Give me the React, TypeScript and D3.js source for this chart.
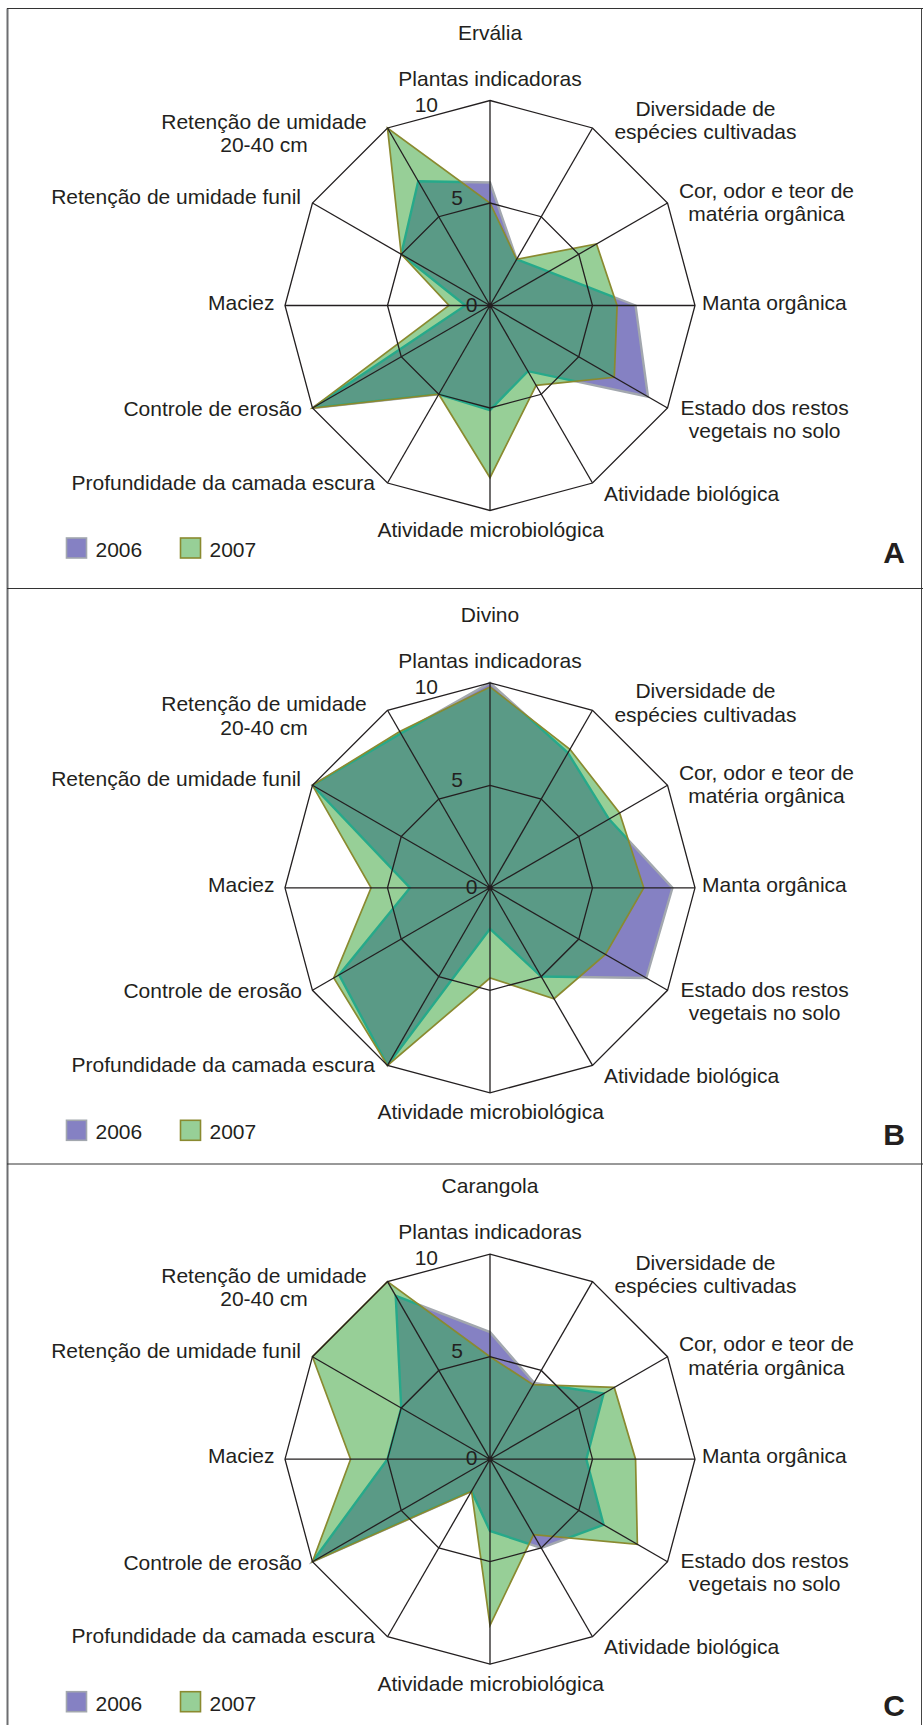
import React from "react";
import * as d3 from "d3";

// Twelve soil-quality indicators, clockwise from the top ("|" breaks a label into lines)
const categories = [
  "Plantas indicadoras",
  "Diversidade de|espécies cultivadas",
  "Cor, odor e teor de|matéria orgânica",
  "Manta orgânica",
  "Estado dos restos|vegetais no solo",
  "Atividade biológica",
  "Atividade microbiológica",
  "Profundidade da camada escura",
  "Controle de erosão",
  "Maciez",
  "Retenção de umidade funil",
  "Retenção de umidade|20-40 cm",
];

const sites = ["Ervália", "Divino", "Carangola"];
const panelLetters = ["A", "B", "C"];
const years = ["2006", "2007"];
const ticks = [0, 5, 10];

// Scores (0-10) per indicator, same order as categories
const ervalia2006 = [6, 2.6, 3.3, 7.1, 8.9, 3.7, 5.1, 5, 10, 1.2, 5, 7];
const ervalia2007 = [5, 2.6, 6, 6.2, 7, 4.5, 8.4, 5, 10, 2, 5, 10];
const divino2006 = [10, 7.6, 6.7, 8.9, 8.8, 5.0, 2.0, 10, 8.5, 3.9, 10, 8.7];
const divino2007 = [9.8, 7.8, 7.3, 7.5, 6.5, 6.25, 4.4, 10, 8.8, 5.8, 10, 8.8];
const carangola2006 = [6.2, 4.3, 6.4, 4.7, 6.4, 5.0, 3.5, 1.8, 10, 5.0, 5, 9.2];
const carangola2007 = [5, 4.2, 7, 7.1, 8.3, 4.25, 8.1, 1.8, 10, 6.8, 10, 10];

const series2006 = [ervalia2006, divino2006, carangola2006];
const series2007 = [ervalia2007, divino2007, carangola2007];

// ---- layout & style ----
const W = 923;
const H = 1725;
const CX = 490;
const centersY = [305.5, 887.8, 1459.2];
const R = 205;
const FONT = "'Liberation Sans', Arial, Helvetica, sans-serif";
const TEXT = "#231f20";

const C_PURPLE = "#8581c3";
const C_GREY = "#a2a7ae";
const C_GREEN = "#97cf97";
const C_OLIVE = "#8a8a30";
const C_OVERLAP = "#5a9a86";
const C_TEAL = "#27a98a";

const labelLayout = [
  { dx: 0, dy: -220, anchor: "middle" },
  { dx: 215.5, dy: -189.5, anchor: "middle" },
  { dx: 276.5, dy: -108, anchor: "middle" },
  { dx: 212, dy: 4, anchor: "start" },
  { dx: 274.6, dy: 109, anchor: "middle" },
  { dx: 201.6, dy: 195, anchor: "middle" },
  { dx: 0.6, dy: 231.5, anchor: "middle" },
  { dx: -115, dy: 184, anchor: "end" },
  { dx: -188, dy: 110.5, anchor: "end" },
  { dx: -215.5, dy: 4, anchor: "end" },
  { dx: -189, dy: -101.5, anchor: "end" },
  { dx: -226, dy: -176.5, anchor: "middle" },
];
const LINE_H = 23.3;

const tickLayout = [
  { dx: -12.5, dy: 6 },
  { dx: -27, dy: -101 },
  { dx: -52, dy: -194 },
];

const rScale = d3.scaleLinear().domain([0, 10]).range([0, R]);
const n = categories.length;
const angle = (i: number) => (i * 2 * Math.PI) / n;

const radar = d3
  .lineRadial<number>()
  .angle((_d, i) => angle(i))
  .radius((d) => rScale(d))
  .curve(d3.curveLinearClosed);

function Panel({ idx }: { idx: number }) {
  const cy = centersY[idx];
  const a = series2006[idx];
  const b = series2007[idx];
  const pathA = radar(a) || "";
  const pathB = radar(b) || "";
  const clipId = `clip2007-${idx}`;
  const ringPaths = [5, 10].map((v) => radar(new Array(n).fill(v)) || "");

  return (
    <g>
      <text
        x={CX}
        y={cy - 266}
        textAnchor="middle"
        fontSize={21}
        fill={TEXT}
      >
        {sites[idx]}
      </text>

      <g transform={`translate(${CX},${cy})`}>
        <defs>
          <clipPath id={clipId}>
            <path d={pathB} />
          </clipPath>
        </defs>
        {/* 2006 */}
        <path d={pathA} fill={C_PURPLE} stroke={C_GREY} strokeWidth={2.4} strokeLinejoin="miter" />
        {/* 2007 */}
        <path d={pathB} fill={C_GREEN} stroke="none" />
        {/* area common to both years */}
        <path
          d={pathA}
          fill={C_OVERLAP}
          stroke={C_TEAL}
          strokeWidth={2.4}
          clipPath={`url(#${clipId})`}
        />
        <path d={pathB} fill="none" stroke={C_OLIVE} strokeWidth={1.7} strokeLinejoin="miter" />

        {/* grid */}
        {ringPaths.map((d, i) => (
          <path key={i} d={d} fill="none" stroke={TEXT} strokeWidth={1.3} />
        ))}
        {categories.map((_c, i) => {
          const t = angle(i);
          return (
            <line
              key={i}
              x1={0}
              y1={0}
              x2={R * Math.sin(t)}
              y2={-R * Math.cos(t)}
              stroke={TEXT}
              strokeWidth={1.3}
            />
          );
        })}
        <circle r={2.6} fill={TEXT} />

        {/* radial tick labels */}
        {ticks.map((v, i) => (
          <text
            key={v}
            x={tickLayout[i].dx}
            y={tickLayout[i].dy}
            textAnchor="end"
            fontSize={21}
            fill={TEXT}
          >
            {v}
          </text>
        ))}

        {/* indicator labels */}
        {categories.map((c, i) => {
          const L = labelLayout[i];
          const lines = c.split("|");
          return (
            <text
              key={c}
              x={L.dx}
              y={L.dy}
              textAnchor={L.anchor as any}
              fontSize={21}
              fill={TEXT}
            >
              {lines.map((s, k) => (
                <tspan key={k} x={L.dx} dy={k === 0 ? 0 : LINE_H}>
                  {s}
                </tspan>
              ))}
            </text>
          );
        })}
      </g>

      {/* legend */}
      {years.map((y, k) => {
        const x0 = k === 0 ? 66.5 : 180.5;
        return (
          <g key={y}>
            <rect
              x={x0}
              y={cy + 232.5}
              width={20}
              height={20}
              fill={k === 0 ? C_PURPLE : C_GREEN}
              stroke={k === 0 ? C_GREY : C_OLIVE}
              strokeWidth={1.6}
            />
            <text x={x0 + 29} y={cy + 251.5} fontSize={21} fill={TEXT}>
              {y}
            </text>
          </g>
        );
      })}

      <text
        x={905}
        y={cy + 257}
        textAnchor="end"
        fontSize={30}
        fontWeight="bold"
        fill={TEXT}
      >
        {panelLetters[idx]}
      </text>
    </g>
  );
}

export default function App() {
  return (
    <div style={{ position: "absolute", left: 0, top: 0 }}>
      <svg width={W} height={H} fontFamily={FONT} style={{ display: "block", background: "#fff" }}>
        <rect x={0} y={0} width={W} height={H} fill="#fff" />
        {/* frame */}
        <line x1={7.5} y1={8.5} x2={7.5} y2={H} stroke="#6d6e71" strokeWidth={2} />
        <line x1={921.5} y1={8.5} x2={921.5} y2={H} stroke="#444" strokeWidth={1} />
        <line x1={7} y1={8.5} x2={923} y2={8.5} stroke="#333" strokeWidth={1} />
        <line x1={7} y1={588.5} x2={923} y2={588.5} stroke="#333" strokeWidth={1} />
        <line x1={7} y1={1164} x2={923} y2={1164} stroke="#333" strokeWidth={1} />
        {sites.map((_s, i) => (
          <Panel key={i} idx={i} />
        ))}
      </svg>
    </div>
  );
}
